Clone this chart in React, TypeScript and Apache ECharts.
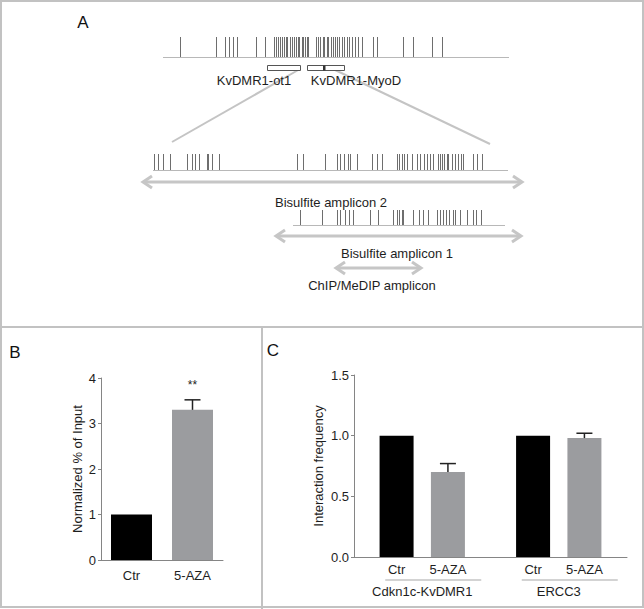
import React, { useEffect, useRef } from 'react';
import * as echarts from 'echarts';

const FONT = '"Liberation Sans", Arial, Helvetica, sans-serif';
const TXT = '#1e1e1e';
const AXIS = '#858585';
const BAR_GRAY = '#9b9c9f';
const ARROW_GRAY = '#c6c6c6';

// ---------- Panel A: schematic (positions in schematic layout units) ----------
const overviewCpG = [180, 216, 225, 229, 233, 237, 256, 265, 274, 276, 278, 280, 282, 284, 286, 287, 290, 292, 294, 296, 298, 299, 302, 303, 305, 307, 308, 316, 318, 320, 323, 324, 327, 328, 331, 333, 335, 337, 339, 342, 344, 347, 349, 352, 355, 358, 362, 373, 377, 403, 413, 432, 442];
const amplicon2CpG = [154, 158, 163, 170, 187, 192, 195, 199, 207, 208, 212, 219, 297, 303, 325, 337, 340, 344, 348, 350, 357, 372, 377, 382, 397, 399, 402, 404, 407, 412, 417, 420, 424, 427, 430, 433, 438, 440, 442, 444, 447, 448, 452, 455, 458, 461, 463, 473, 477, 482];
const amplicon1CpG = [300, 322, 337, 340, 345, 349, 353, 370, 378, 393, 397, 399, 402, 403, 413, 419, 423, 428, 437, 440, 443, 446, 449, 453, 455, 460, 467, 473, 476, 481];

const tracks = [
  { cpg: overviewCpG, start: 163, end: 509, top: 37, base: 57 },
  { cpg: amplicon2CpG, start: 153, end: 508, top: 154, base: 170 },
  { cpg: amplicon1CpG, start: 293, end: 505, top: 210, base: 225 },
];
const regionNames = ['KvDMR1-ot1', 'KvDMR1-MyoD'];
const regionStart = [267, 307];
const regionEnd = [300, 344];
const regionMark = [null, 324];
const regionLabelX = [254, 356];
const regionRow = 65;
const regionLabelRow = 80;

const ampliconNames = ['Bisulfite amplicon 2', 'Bisulfite amplicon 1', 'ChIP/MeDIP amplicon'];
const ampliconStart = [142, 275, 335];
const ampliconEnd = [523, 522, 422];
const ampliconRow = [182, 236, 268];
const ampliconLabelX = [331, 397, 372];
const ampliconLabelRow = [202, 253, 285];

const zoomLines = [
  [300, 69, 172, 142],
  [333, 69, 490, 144],
];

// ---------- Panel B ----------
const bCategories = ['Ctr', '5-AZA'];
const bValues = [1.0, 3.3];
const bErrors = [0, 0.22];
const bSignif = ['', '**'];

// ---------- Panel C ----------
const cGroups = ['Cdkn1c-KvDMR1', 'ERCC3'];
const cCtr = [1.0, 1.0];
const cCtrErr = [0, 0];
const cAza = [0.7, 0.98];
const cAzaErr = [0.07, 0.04];

const BAR_W_C = 34;
const GAP_C = 0.51;
const C_OFF = (BAR_W_C + BAR_W_C * GAP_C) / 2;

function errRender(offset: number, capHalf: number) {
  return (params: any, api: any) => {
    const cat = api.value(0);
    const v = api.value(1);
    const e = api.value(2);
    if (!e) return null;
    const base = api.coord([cat, v]);
    const top = api.coord([cat, v + e]);
    const x = base[0] + offset;
    const children: any[] = [
      { type: 'line', shape: { x1: x, y1: base[1], x2: x, y2: top[1] }, style: { stroke: '#222', lineWidth: 1.5 } },
      { type: 'line', shape: { x1: x - capHalf, y1: top[1], x2: x + capHalf, y2: top[1] }, style: { stroke: '#222', lineWidth: 1.5 } },
    ];
    const sig = api.value(3);
    if (sig && typeof sig === 'string') {
      children.push({
        type: 'text', x, y: top[1] - 15,
        style: { text: sig, fontSize: 12, fontFamily: FONT, fill: TXT, align: 'center', verticalAlign: 'middle' },
      });
    }
    return { type: 'group', children };
  };
}

const option: any = {
  animation: false,
  backgroundColor: '#ffffff',
  textStyle: { fontFamily: FONT },
  grid: [
    { left: 0, top: 0, width: 644, height: 327 },
    { left: 101, top: 378, width: 122, height: 182 },
    { left: 354, top: 375, width: 273, height: 182 },
  ],
  xAxis: [
    { gridIndex: 0, type: 'value', min: 0, max: 644, show: false },
    {
      gridIndex: 1, type: 'category', data: bCategories,
      axisLine: { lineStyle: { color: AXIS } },
      axisTick: { alignWithLabel: true, length: 4, lineStyle: { color: AXIS } },
      axisLabel: { color: TXT, fontSize: 13, margin: 9, fontFamily: FONT },
    },
    {
      gridIndex: 2, type: 'category', data: cGroups,
      axisLine: { lineStyle: { color: AXIS } },
      axisTick: { alignWithLabel: true, length: 4, lineStyle: { color: AXIS } },
      axisLabel: {
        interval: 0, margin: 21,
        formatter: (v: string) => `{s| }{u| }\n{g|${v}}`,
        rich: {
          s: { width: 22, height: 1, lineHeight: 4, fontSize: 1 },
          u: { width: 96, height: 1, lineHeight: 4, fontSize: 1, backgroundColor: '#a8a8a8' },
          g: { fontSize: 13, color: TXT, lineHeight: 18, fontFamily: FONT },
        },
      },
    },
  ],
  yAxis: [
    { gridIndex: 0, type: 'value', min: 0, max: 327, inverse: true, show: false },
    {
      gridIndex: 1, type: 'value', min: 0, max: 4, interval: 1,
      name: 'Normalized % of Input', nameLocation: 'middle', nameGap: 17,
      nameTextStyle: { fontSize: 13, color: TXT, fontFamily: FONT },
      axisLine: { show: true, lineStyle: { color: AXIS } },
      axisTick: { show: true, length: 3, lineStyle: { color: AXIS } },
      splitLine: { show: false },
      axisLabel: { fontSize: 13, color: TXT, margin: 5, fontFamily: FONT },
    },
    {
      gridIndex: 2, type: 'value', min: 0, max: 1.5, interval: 0.5,
      name: 'Interaction frequency', nameLocation: 'middle', nameGap: 29,
      nameTextStyle: { fontSize: 13, color: TXT, fontFamily: FONT },
      axisLine: { show: true, lineStyle: { color: AXIS } },
      axisTick: { show: true, length: 3, lineStyle: { color: AXIS } },
      splitLine: { show: false },
      axisLabel: { fontSize: 13, color: TXT, margin: 5, fontFamily: FONT, formatter: (v: number) => v.toFixed(1) },
    },
  ],
  series: [
    {
      type: 'custom', xAxisIndex: 0, yAxisIndex: 0, silent: true,
      data: zoomLines,
      renderItem: (p: any, api: any) => {
        const a = api.coord([api.value(0), api.value(1)]);
        const b = api.coord([api.value(2), api.value(3)]);
        return { type: 'line', shape: { x1: a[0], y1: a[1], x2: b[0], y2: b[1] }, style: { stroke: '#c4c4c4', lineWidth: 2 } };
      },
    },
    {
      type: 'custom', xAxisIndex: 0, yAxisIndex: 0, silent: true,
      data: tracks.map((t) => [t.start, t.end, t.base]),
      renderItem: (p: any, api: any) => {
        const a = api.coord([api.value(0), api.value(2)]);
        const b = api.coord([api.value(1), api.value(2)]);
        return { type: 'line', shape: { x1: a[0], y1: a[1] + 0.5, x2: b[0], y2: b[1] + 0.5 }, style: { stroke: '#b8b8b8', lineWidth: 1 } };
      },
    },
    {
      type: 'custom', xAxisIndex: 0, yAxisIndex: 0, silent: true,
      data: tracks.flatMap((t) => t.cpg.map((x) => [x, t.top, t.base])),
      renderItem: (p: any, api: any) => {
        const a = api.coord([api.value(0), api.value(1)]);
        const b = api.coord([api.value(0), api.value(2)]);
        return { type: 'line', shape: { x1: a[0] + 0.5, y1: a[1], x2: b[0] + 0.5, y2: b[1] }, style: { stroke: '#6e6e6e', lineWidth: 1 } };
      },
    },
    {
      type: 'custom', xAxisIndex: 0, yAxisIndex: 0, silent: true,
      data: regionNames.map((n, i) => [regionStart[i], regionEnd[i], regionMark[i] ?? -1, regionLabelX[i]]),
      renderItem: (p: any, api: any) => {
        const a = api.coord([api.value(0), regionRow]);
        const b = api.coord([api.value(1), regionRow + 5]);
        const children: any[] = [
          { type: 'rect', shape: { x: a[0] + 0.5, y: a[1] + 0.5, width: b[0] - a[0], height: b[1] - a[1] }, style: { fill: '#fff', stroke: '#555', lineWidth: 1 } },
        ];
        const m = api.value(2);
        if (m >= 0) {
          const c = api.coord([m, regionRow]);
          children.push({ type: 'rect', shape: { x: c[0] - 1, y: a[1] + 0.5, width: 2.5, height: b[1] - a[1] }, style: { fill: '#333' } });
        }
        const l = api.coord([api.value(3), regionLabelRow]);
        children.push({ type: 'text', x: l[0], y: l[1], style: { text: regionNames[p.dataIndex], fontSize: 13, fontFamily: FONT, fill: TXT, align: 'center', verticalAlign: 'middle' } });
        return { type: 'group', children };
      },
    },
    {
      type: 'custom', xAxisIndex: 0, yAxisIndex: 0, silent: true,
      data: ampliconNames.map((n, i) => [ampliconStart[i], ampliconEnd[i], ampliconRow[i], ampliconLabelX[i], ampliconLabelRow[i]]),
      renderItem: (p: any, api: any) => {
        const a = api.coord([api.value(0), api.value(2)]);
        const b = api.coord([api.value(1), api.value(2)]);
        const l = api.coord([api.value(3), api.value(4)]);
        const st = { stroke: ARROW_GRAY, lineWidth: 3, fill: 'none' };
        return {
          type: 'group',
          children: [
            { type: 'line', shape: { x1: a[0] + 1, y1: a[1], x2: b[0] - 1, y2: b[1] }, style: st },
            { type: 'polyline', shape: { points: [[a[0] + 10, a[1] - 6], [a[0] + 1, a[1]], [a[0] + 10, a[1] + 6]] }, style: st },
            { type: 'polyline', shape: { points: [[b[0] - 10, b[1] - 6], [b[0] - 1, b[1]], [b[0] - 10, b[1] + 6]] }, style: st },
            { type: 'text', x: l[0], y: l[1], style: { text: ampliconNames[p.dataIndex], fontSize: 13, fontFamily: FONT, fill: TXT, align: 'center', verticalAlign: 'middle' } },
          ],
        };
      },
    },
    {
      type: 'bar', xAxisIndex: 1, yAxisIndex: 1, barWidth: 41,
      data: bValues.map((v, i) => ({ value: v, itemStyle: { color: i === 0 ? '#000000' : BAR_GRAY } })),
    },
    {
      type: 'custom', xAxisIndex: 1, yAxisIndex: 1, silent: true, z: 5,
      data: bValues.map((v, i) => [i, v, bErrors[i], bSignif[i]]),
      renderItem: errRender(0, 8),
    },
    {
      type: 'bar', name: 'Ctr', xAxisIndex: 2, yAxisIndex: 2, barWidth: BAR_W_C, barGap: GAP_C * 100 + '%',
      itemStyle: { color: '#000000' }, data: cCtr,
      label: { show: true, position: 'bottom', distance: 6, formatter: 'Ctr', fontSize: 13, color: TXT, fontFamily: FONT },
    },
    {
      type: 'bar', name: '5-AZA', xAxisIndex: 2, yAxisIndex: 2, barWidth: BAR_W_C, barGap: GAP_C * 100 + '%',
      itemStyle: { color: BAR_GRAY }, data: cAza,
      label: { show: true, position: 'bottom', distance: 6, formatter: '5-AZA', fontSize: 13, color: TXT, fontFamily: FONT },
    },
    {
      type: 'custom', xAxisIndex: 2, yAxisIndex: 2, silent: true, z: 5,
      data: cAza.map((v, i) => [i, v, cAzaErr[i], '']),
      renderItem: errRender(C_OFF, 8),
    },
    {
      type: 'custom', xAxisIndex: 2, yAxisIndex: 2, silent: true, z: 5,
      data: cCtr.map((v, i) => [i, v, cCtrErr[i], '']),
      renderItem: errRender(-C_OFF, 8),
    },
  ],
  graphic: [
    { type: 'rect', shape: { x: 1, y: 1, width: 642, height: 606 }, style: { fill: 'none', stroke: '#c2c2c2', lineWidth: 2 }, silent: true },
    { type: 'line', shape: { x1: 0, y1: 327, x2: 644, y2: 327 }, style: { stroke: '#c2c2c2', lineWidth: 2 }, silent: true },
    { type: 'line', shape: { x1: 262, y1: 327, x2: 262, y2: 609 }, style: { stroke: '#c2c2c2', lineWidth: 2 }, silent: true },
    { type: 'text', x: 83, y: 22, style: { text: 'A', fontSize: 17, fontFamily: FONT, fill: '#111', align: 'center', verticalAlign: 'middle' } },
    { type: 'text', x: 15, y: 352, style: { text: 'B', fontSize: 17, fontFamily: FONT, fill: '#111', align: 'center', verticalAlign: 'middle' } },
    { type: 'text', x: 273, y: 350, style: { text: 'C', fontSize: 17, fontFamily: FONT, fill: '#111', align: 'center', verticalAlign: 'middle' } },
  ],
};

export default function App() {
  const ref = useRef<HTMLDivElement>(null);
  useEffect(() => {
    const chart = echarts.init(ref.current!, undefined, { renderer: 'svg' });
    chart.setOption(option);
    return () => chart.dispose();
  }, []);
  return (
    <div
      ref={ref}
      style={{ position: 'absolute', left: 0, top: 0, width: 644, height: 609, background: '#fff' }}
    />
  );
}
